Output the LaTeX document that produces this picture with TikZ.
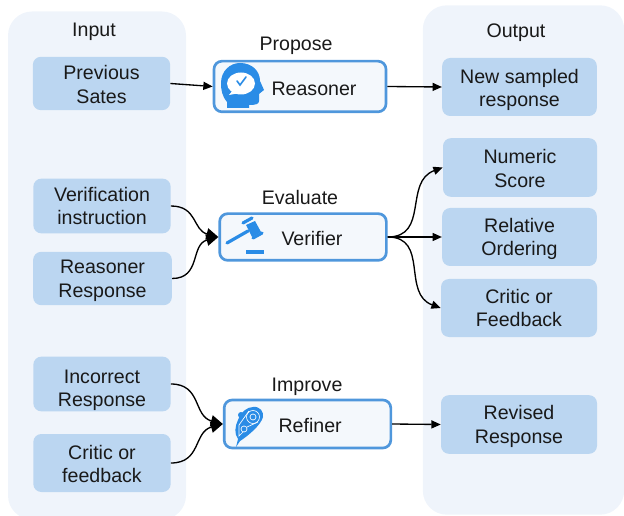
\documentclass[tikz,border=0pt]{standalone}
\usepackage{fontspec}
\setmainfont{Liberation Sans}
\usepackage{xcolor}
\usetikzlibrary{arrows.meta}
\definecolor{PanelBlue}{HTML}{EFF4FB}
\definecolor{BoxBlue}{HTML}{BBD6F1}
\definecolor{EdgeBlue}{HTML}{4F97DC}
\definecolor{IconBlue}{HTML}{2A8CE6}
\definecolor{FillBlue}{HTML}{F4F8FC}
\newcommand{\pad}[1]{\rule{0pt}{#1pt}}
\tikzset{
	every node/.style={font=\fontsize{14.7}{17.8}\selectfont, text=black!90, align=center, inner sep=0pt,
		execute at begin node={\rule{0pt}{13.5pt}}},
	panel/.style={fill=PanelBlue, rounded corners=18pt},
	databox/.style={fill=BoxBlue, rounded corners=6pt},
	procbox/.style={draw=EdgeBlue, fill=FillBlue, line width=2pt, rounded corners=6pt},
	link/.style={-{Triangle[length=7pt,width=6pt]}, line width=1pt, black},
	biglink/.style={-{Triangle[length=9pt,width=8.5pt]}, line width=1pt, black},
	curve/.style={out=0, looseness=1.2}
}

\begin{document}
\begin{tikzpicture}[x=0.75pt, y=-0.75pt]
	\useasboundingbox (0,0) rectangle (624,516);

	% Panels
	\node (inpanel) [panel, minimum width=133.5pt, minimum height=381pt] at (97,265.5) {};
	\node (outpanel) [panel, minimum width=151pt, minimum height=382pt] at (523.5,260) {};

	% Headings
	\node (input) at (94,30) {Input};
	\node (output) at (516,31) {Output};
	\node (propose) at (296,44) {Propose};
	\node (evaluate) at (300,196) {Evaluate};
	\node (improve) at (307,385) {Improve};

	% Input nodes
	\node (prev) [databox, minimum width=103pt, minimum height=40pt] at (101.5,83.5) {\pad{12.1}Previous\\Sates};
	\node (verif) [databox, minimum width=103pt, minimum height=41pt] at (102,206) {Verification\\instruction};
	\node (resp) [databox, minimum width=104pt, minimum height=40pt] at (102.5,278.5) {\pad{13.6}Reasoner\\Response};
	\node (incorrect) [databox, minimum width=103pt, minimum height=41pt] at (102,384) {\pad{19.6}Incorrect\\Response};
	\node (critic) [databox, minimum width=103pt, minimum height=43.5pt] at (102,463) {\pad{12.1}Critic or\\feedback};

	% Agents
	\node (reasoner) [procbox, minimum width=129pt, minimum height=38pt] at (300,86.5) {\hspace*{21pt}Reasoner};
	\node (verifier) [procbox, minimum width=125pt, minimum height=35pt] at (303,237) {\hspace*{13.5pt}Verifier};
	\node (refiner) [procbox, minimum width=125pt, minimum height=36pt] at (307.5,424) {\hspace*{4pt}Refiner};

	% Output nodes
	\node (sampled) [databox, minimum width=116pt, minimum height=43.5pt] at (519.5,87) {\pad{15.1}New sampled\\response};
	\node (numeric) [databox, minimum width=115.5pt, minimum height=44pt] at (520,167.5) {\pad{12.1}Numeric\\Score};
	\node (relative) [databox, minimum width=116pt, minimum height=43.5pt] at (519.5,237) {\pad{13.6}Relative\\Ordering};
	\node (feedback) [databox, minimum width=117pt, minimum height=43.5pt] at (519,308) {Critic or\\Feedback};
	\node (revised) [databox, minimum width=117pt, minimum height=44pt] at (519,424.5) {\pad{13.6}Revised\\Response};

	% Reasoner icon
	\fill[IconBlue] (227,108) -- (227,102) .. controls (222,96) and (221,90) .. (221,83)
		.. controls (221,71) and (230,63) .. (240,63) .. controls (252,63) and (260,71) .. (260,81)
		-- (264,90) -- (259,94) -- (259,101) .. controls (259,104) and (256,105) .. (249,105) -- (249,108) -- cycle;
	\fill[white] (241,83.5) ellipse (14 and 11);
	\fill[white] (233,90) -- (229,95) -- (240,93) -- cycle;
	\draw[IconBlue, line width=1.2pt, line cap=round] (237,81) -- (240,85) -- (246,77);

	% Verifier icon
	\fill[IconBlue] (246,225) -- (255,221) -- (261,232) -- (252,237) -- cycle;
	\draw[IconBlue, line width=2.4pt, line cap=round] (243,223) -- (252,218);
	\draw[IconBlue, line width=2.4pt, line cap=round] (253,238) -- (262,233);
	\draw[IconBlue, line width=2.4pt, line cap=round] (227,243) -- (248,231);
	\draw[IconBlue, line width=2.8pt] (246,252) -- (264,252);

	% Refiner icon
	\fill[IconBlue] (236,447) -- (238,439) .. controls (234,434) and (235,426) .. (238,420)
		.. controls (241,412) and (247,407) .. (253,407) .. controls (260,406) and (264,412) .. (263,417)
		.. controls (261,425) and (248,436) .. (240,441) -- cycle;
	\fill[IconBlue] (241,415) circle (3);
	\draw[white, line width=0.5pt] (253,417) circle (6.5);
	\draw[white, line width=0.5pt] (253,417) circle (3);
	\draw[white, line width=0.5pt] (244,429) circle (3);
	\draw[white, line width=0.5pt] (249,411) -- (239,425) -- (239,436) -- (243,432);
	\draw[white, line width=0.5pt] (247,427) -- (258,422);

	% Labels
	\draw[link] (prev.east) -- (reasoner.west);
	\draw[link] (reasoner.east) -- (sampled.west);
	\draw[biglink] (verif.east) to[curve, in=165] (verifier.west);
	\draw[biglink] (resp.east) to[curve, in=195] (verifier.west);
	\draw[biglink] (incorrect.east) to[curve, in=165] (refiner.west);
	\draw[biglink] (critic.east) to[curve, in=195] (refiner.west);
	\draw[link] (verifier.east) to[curve, in=200] (numeric.west);
	\draw[link] (verifier.east) -- (relative.west);
	\draw[link] (verifier.east) to[curve, in=160] (feedback.west);
	\draw[link] (refiner.east) -- (revised.west);
\end{tikzpicture}
\end{document}
